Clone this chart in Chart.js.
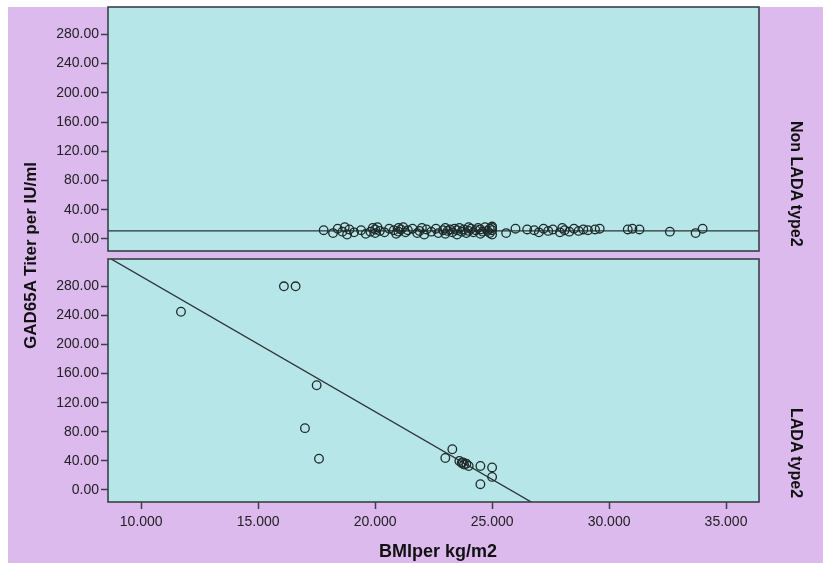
<!DOCTYPE html>
<html>
<head>
<meta charset="utf-8">
<script src="https://cdn.jsdelivr.net/npm/chart.js@4/dist/chart.umd.min.js"></script>
<style>
  html, body { margin: 0; padding: 0; background: #fff; }
  #wrap { position: relative; width: 823px; height: 563px; background: #fff; overflow: hidden; }
  #bg { position: absolute; left: 8px; top: 7px; right: 0; bottom: 0; background: #ddbaee; }
  canvas { position: absolute; left: 0; top: 0; }
  .lbl { position: absolute; font-family: "Liberation Sans", Arial, sans-serif; font-weight: bold; color: #111; white-space: nowrap; }
  .vert { writing-mode: vertical-rl; }
</style>
</head>
<body>
<div id="wrap">
  <div id="bg"></div>
  <canvas id="topPanel" width="823" height="563"></canvas>
  <canvas id="bottomPanel" width="823" height="563"></canvas>
  <div class="lbl vert" id="yTitle" style="left:21px;top:100px;width:20px;height:310px;text-align:center;font-size:17px;transform:rotate(180deg);">GAD65A Titer per IU/ml</div>
  <div class="lbl vert" style="left:785px;top:7px;width:20px;height:240px;text-align:end;font-size:16px;">Non LADA type2</div>
  <div class="lbl vert" style="left:785px;top:259px;width:20px;height:239px;text-align:end;font-size:16px;">LADA type2</div>
  <div class="lbl" style="left:238px;top:541px;width:400px;text-align:center;font-size:18px;line-height:20px;">BMIper kg/m2</div>
</div>
<script>
// tick labels
const xTicks = [10, 15, 20, 25, 30, 35];
const yTicks = [0, 40, 80, 120, 160, 200, 240, 280];

// Non LADA type2 panel
const nonLadaBMI = [
  17.8, 18.2, 18.4, 18.6, 18.7, 18.8, 18.9, 19.1, 19.4, 19.6,
  19.8, 19.9, 20.0, 20.0, 20.1, 20.2, 20.4, 20.6, 20.8, 20.9,
  21.0, 21.0, 21.1, 21.2, 21.3, 21.4, 21.6, 21.8, 21.9, 22.0,
  22.1, 22.2, 22.4, 22.6, 22.7, 22.9, 23.0, 23.0, 23.1, 23.2,
  23.3, 23.4, 23.5, 23.5, 23.6, 23.7, 23.8, 23.9, 24.0, 24.0,
  24.1, 24.2, 24.3, 24.4, 24.5, 24.5, 24.6, 24.7, 24.8, 24.9,
  24.9, 25.0, 25.0, 25.0, 25.0, 25.6, 26.0, 26.5, 26.8, 27.0,
  27.2, 27.4, 27.6, 27.9, 28.0, 28.1, 28.3, 28.5, 28.7, 28.9,
  29.1, 29.4, 29.6, 30.8, 31.0, 31.3, 32.6, 33.7, 34.0
];
const nonLadaTiter = [
  12, 8, 14, 10, 16, 6, 13, 9, 12, 7,
  10, 15, 13, 8, 16, 11, 9, 14, 12, 7,
  15, 10, 13, 16, 9, 12, 14, 8, 11, 15,
  6, 13, 10, 14, 8, 12, 15, 7, 11, 13,
  9, 14, 12, 6, 15, 10, 13, 8, 16, 11,
  14, 9, 12, 15, 7, 13, 10, 16, 11, 14,
  8, 17, 12, 6, 15, 8, 14, 13, 12, 9,
  14, 11, 13, 9, 15, 12, 10, 14, 11, 13,
  12, 13, 14, 13, 14, 13, 10, 8, 14
];

// LADA type2 panel
const ladaBMI = [11.7, 16.1, 16.6, 17.5, 17.0, 17.6, 23.0, 23.3, 23.6, 23.7, 23.75, 23.8, 23.9, 24.0, 24.5, 25.0, 25.0, 24.5];
const ladaTiter = [245, 280, 280, 144, 85, 43, 44, 56, 40, 37, 38, 35, 36, 33, 33, 31, 18, 8];

// fit lines: [intercept, slope]
const nonLadaFit = [11, 0];
const ladaFit = [479.6, -18.6];

const xRange = [8.58, 36.41];
const yRange = [-16.5, 317.5];

const INK = '#222';
const CYAN = '#b6e6e7';
const FONT = '"Liberation Sans", Arial, sans-serif';

const panelPlugin = {
    id: 'panel',
    beforeDatasetsDraw(chart) {
        const a = chart.chartArea;
        const ctx = chart.ctx;
        ctx.save();
        ctx.fillStyle = CYAN;
        ctx.fillRect(a.left, a.top, a.right - a.left, a.bottom - a.top);
        ctx.restore();
    },
    afterDraw(chart) {
        const a = chart.chartArea;
        const ctx = chart.ctx;
        ctx.save();
        ctx.strokeStyle = '#3a3f48';
        ctx.lineWidth = 1.6;
        ctx.strokeRect(a.left, a.top, a.right - a.left, a.bottom - a.top);
        ctx.restore();
    }
};

function toPoints(xs, ys) {
    return xs.map((x, i) => ({ x: x, y: ys[i] }));
}

function fitPoints(fit) {
    return xRange.map(x => ({ x: x, y: fit[0] + fit[1] * x }));
}

function makePanel(id, xs, ys, fit, showX, padding) {
    const ctx = document.getElementById(id).getContext('2d');
    return new Chart(ctx, {
        type: 'scatter',
        data: {
            datasets: [{
                data: toPoints(xs, ys),
                pointStyle: 'circle',
                pointRadius: 4.3,
                pointBorderWidth: 1.3,
                pointBorderColor: '#1e2a2a',
                pointBackgroundColor: 'rgba(0,0,0,0)',
                showLine: false
            }, {
                type: 'line',
                data: fitPoints(fit),
                borderColor: '#2d3338',
                borderWidth: 1.3,
                pointRadius: 0,
                fill: false
            }]
        },
        options: {
            responsive: false,
            animation: false,
            layout: { padding: padding },
            plugins: { legend: { display: false }, tooltip: { enabled: false } },
            scales: {
                x: {
                    type: 'linear',
                    display: showX,
                    min: xRange[0],
                    max: xRange[1],
                    afterBuildTicks: s => { s.ticks = xTicks.map(v => ({ value: v })); },
                    afterFit: s => {
                        s.height = showX ? 61 : 0;
                        s.paddingLeft = 0;
                        s.paddingRight = 0;
                    },
                    border: { display: false },
                    grid: { drawOnChartArea: false, tickLength: 7, tickWidth: 1.5, tickColor: '#3a3f48' },
                    ticks: {
                        padding: 5,
                        color: INK,
                        font: { family: FONT, size: 14 },
                        callback: v => Number(v).toFixed(3)
                    }
                },
                y: {
                    type: 'linear',
                    min: yRange[0],
                    max: yRange[1],
                    afterBuildTicks: s => { s.ticks = yTicks.map(v => ({ value: v })); },
                    afterFit: s => {
                        s.width = 108;
                        s.paddingTop = 0;
                        s.paddingBottom = 0;
                    },
                    border: { display: false },
                    grid: { drawOnChartArea: false, tickLength: 7, tickWidth: 1.5, tickColor: '#3a3f48' },
                    ticks: {
                        padding: 2,
                        color: INK,
                        font: { family: FONT, size: 14 },
                        callback: v => Number(v).toFixed(2)
                    }
                }
            }
        },
        plugins: [panelPlugin]
    });
}

makePanel('topPanel', nonLadaBMI, nonLadaTiter, nonLadaFit, false, { left: 0, right: 64, top: 7, bottom: 312 });
makePanel('bottomPanel', ladaBMI, ladaTiter, ladaFit, true, { left: 0, right: 64, top: 259, bottom: 0 });
</script>
</body>
</html>
